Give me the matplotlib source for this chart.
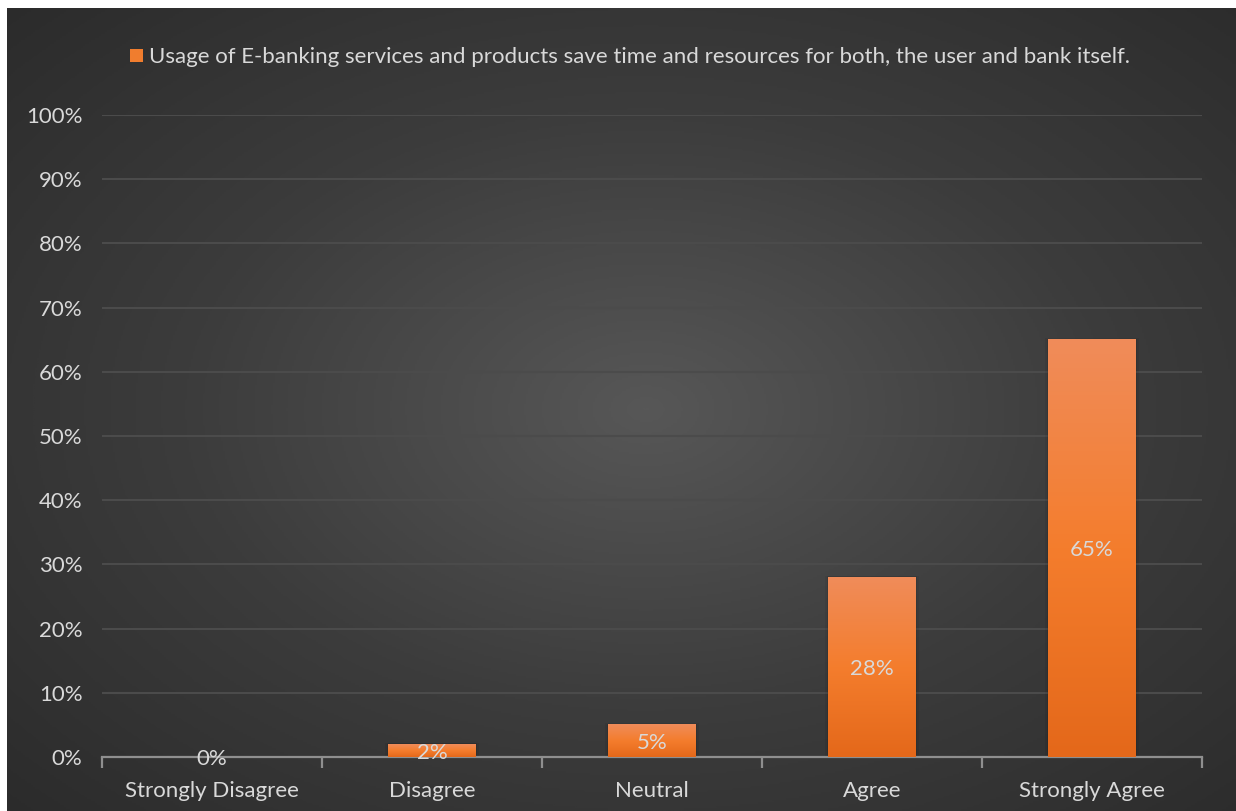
import numpy as np
import matplotlib
matplotlib.use("Agg")
import matplotlib.pyplot as plt
from matplotlib.colors import LinearSegmentedColormap
from matplotlib.ticker import PercentFormatter, FixedLocator, NullFormatter
from matplotlib.patches import Rectangle
from matplotlib.transforms import offset_copy

categories = ["Strongly Disagree", "Disagree", "Neutral", "Agree", "Strongly Agree"]
values = [0, 2, 5, 28, 65]
series_name = ("Usage of E-banking services and products save time and "
               "resources for both, the user and bank itself.")
y_ticks = [0, 10, 20, 30, 40, 50, 60, 70, 80, 90, 100]

W, H = 1236, 811
plt.rcParams["font.family"] = ["Lato", "DejaVu Sans"]
text_color = "#d9d9d9"
fs = 16

fig = plt.figure(figsize=(W / 100, H / 100), dpi=100, facecolor="white")

# dark radial background panel
bg = fig.add_axes([7 / W, 0, (W - 7) / W, (H - 8) / H], zorder=0)
bg.set_axis_off()
yy, xx = np.mgrid[0:1:400j, 0:1:600j]
r = np.sqrt(((xx - 0.52) / 0.75) ** 2 + ((yy - 0.5) / 0.75) ** 2)
r = np.clip(r, 0, 1)
bg_cmap = LinearSegmentedColormap.from_list("bg", ["#575757", "#3c3c3c", "#2a2a2a"])
bg.imshow(r, cmap=bg_cmap, aspect="auto", extent=[0, 1, 0, 1], vmin=0, vmax=1)
bg.set_xlim(0, 1)
bg.set_ylim(0, 1)

ax = fig.add_axes([102 / W, (H - 757) / H, 1100 / W, (757 - 115) / H], zorder=1)
ax.patch.set_alpha(0)

for s in ["top", "right", "left"]:
    ax.spines[s].set_visible(False)
ax.spines["bottom"].set_color("#8f8f8f")
ax.spines["bottom"].set_linewidth(1.6)

ax.yaxis.set_major_locator(FixedLocator(y_ticks))
ax.yaxis.set_major_formatter(PercentFormatter(decimals=0))
ax.tick_params(axis="y", length=0, pad=14, labelsize=fs, labelcolor=text_color)
ax.grid(axis="y", color="#4b4b4b", linewidth=1.5)
ax.set_axisbelow(True)

xpos = np.arange(len(categories))
ax.set_xticks(np.arange(len(categories) + 1) - 0.5)
ax.xaxis.set_major_formatter(NullFormatter())
ax.set_xticks(xpos, minor=True)
ax.set_xticklabels(categories, minor=True)
ax.tick_params(axis="x", which="major", length=8, width=1.6, color="#8f8f8f", direction="out")
ax.tick_params(axis="x", which="minor", length=0, pad=17, labelsize=fs, labelcolor=text_color)

bar_cmap = LinearSegmentedColormap.from_list("bar", ["#e4681a", "#f47d2d", "#f08c5a"])
grad = np.linspace(0, 1, 256).reshape(-1, 1)
width = 0.4
label_tr = offset_copy(ax.transData, fig=fig, x=0, y=-2, units="dots")
for x, v in zip(xpos, values):
    if v > 0:
        for k, a in ((0.012, 0.06), (0.006, 0.08)):
            ax.add_patch(Rectangle((x - width / 2 - k, 0), width + 2 * k, v + k * 20,
                                   facecolor="black", alpha=a, edgecolor="none", zorder=2))
        ax.imshow(grad, cmap=bar_cmap, origin="lower", aspect="auto",
                  extent=[x - width / 2, x + width / 2, 0, v], zorder=3)
    ax.text(x, v / 2, f"{v}%", ha="center", va="center", fontsize=fs,
            color=text_color, zorder=4, transform=label_tr)
ax.set_xlim(-0.5, len(categories) - 0.5)
ax.set_ylim(0, 100)

# legend
fig.patches.append(Rectangle((130 / W, 1 - 62 / H), 13 / W, 13 / H,
                             transform=fig.transFigure, facecolor="#f07d2e",
                             edgecolor="none", zorder=5))
fig.text(149 / W, 1 - 57 / H, series_name, ha="left", va="center",
         fontsize=fs, color=text_color, zorder=5)

fig.savefig("out.png", dpi=100, facecolor="white")
